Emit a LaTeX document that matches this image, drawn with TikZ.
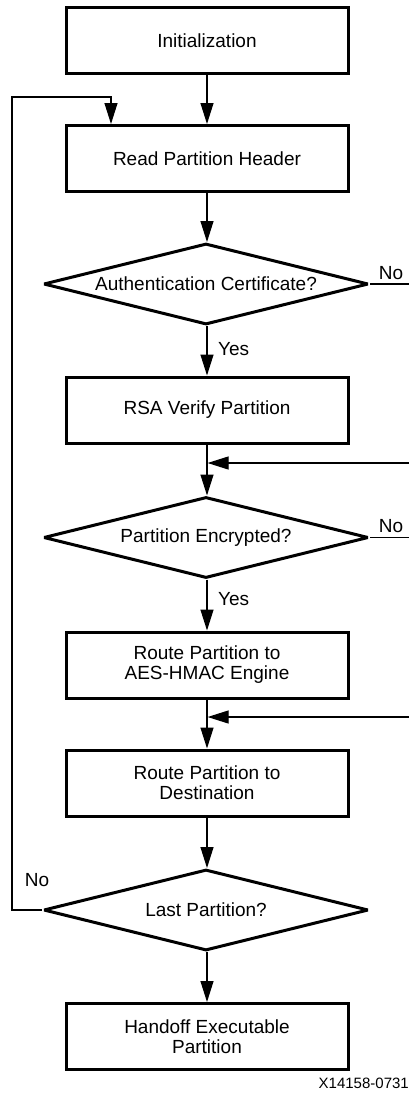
\documentclass[tikz,border=0pt]{standalone}
\usepackage{fontspec}
\setmainfont{Liberation Sans}
\usetikzlibrary{shapes.geometric,arrows.meta}
\tikzset{
  procbox/.style={draw, line width=3pt, minimum width=282pt, minimum height=66pt, inner sep=0pt, align=center, font=\fontsize{19}{20}\selectfont},
  decision/.style={draw, diamond, line width=3pt, line join=bevel, minimum width=325pt, minimum height=81pt, shape aspect=3.9, inner sep=0pt, align=center, font=\fontsize{19}{20}\selectfont},
  conn/.style={line width=1.2pt},
  arr/.style={conn, -{Triangle[length=21pt,width=13pt]}},
  lbl/.style={inner sep=0pt, font=\fontsize{19}{20}\selectfont},
}
\begin{document}
\begin{tikzpicture}[x=1pt,y=-1pt]
\useasboundingbox (0,0) rectangle (409,1101);
\node[procbox] (init) at (207,40.5) {Initialization};
\node[procbox] (read) at (207,158.5) {Read Partition Header};
\node[decision] (d1) at (206,284) {Authentication Certificate?};
\node[procbox] (rsa) at (207,410) {RSA Verify Partition};
\node[decision] (d2) at (206,537.5) {Partition Encrypted?};
\node[procbox] (aes) at (207,665) {Route Partition to\\AES-HMAC Engine};
\node[procbox] (dest) at (207,783) {Route Partition to\\Destination};
\node[decision] (d3) at (206,910) {Last Partition?};
\node[procbox] (hand) at (207,1036.5) {Handoff Executable\\Partition};

\coordinate (e1) at (409,284);
\coordinate (e2) at (409,537.5);
\coordinate (m1) at (409,463);
\coordinate (m2) at (409,717);
\coordinate (lp) at (12,97);

\draw[arr] (init) -- (read);
\draw[arr] (read) -- (read |- d1.north);
\draw[arr] (rsa |- d1.south) -- (rsa);
\draw[arr] (rsa) -- (rsa |- d2.north);
\draw[arr] (aes |- d2.south) -- (aes);
\draw[arr] (aes) -- (dest);
\draw[arr] (dest) -- (dest |- d3.north);
\draw[arr] (hand |- d3.south) -- (hand);

\draw[conn] (d1.east) -- (e1);
\draw[conn] (d2.east) -- (e2);
\draw[arr] (m1) -- ([xshift=0.6pt]m1 -| rsa.south);
\draw[arr] (m2) -- ([xshift=0.6pt]m2 -| aes.south);
\draw[arr] (d3.west) -| (lp) -| ([xshift=-96pt]read.north);

\node[lbl] (no1) at (391,273) {No};
\node[lbl] (no2) at (391,526) {No};
\node[lbl] (no3) at (37,880) {No};
\node[lbl, anchor=west] (yes1) at (218,349) {Yes};
\node[lbl, anchor=west] (yes2) at (218,599) {Yes};
\node[inner sep=0pt, anchor=east, font=\fontsize{15}{17}\selectfont] (fig) at (409,1083) {X14158-0731};
\end{tikzpicture}
\end{document}
